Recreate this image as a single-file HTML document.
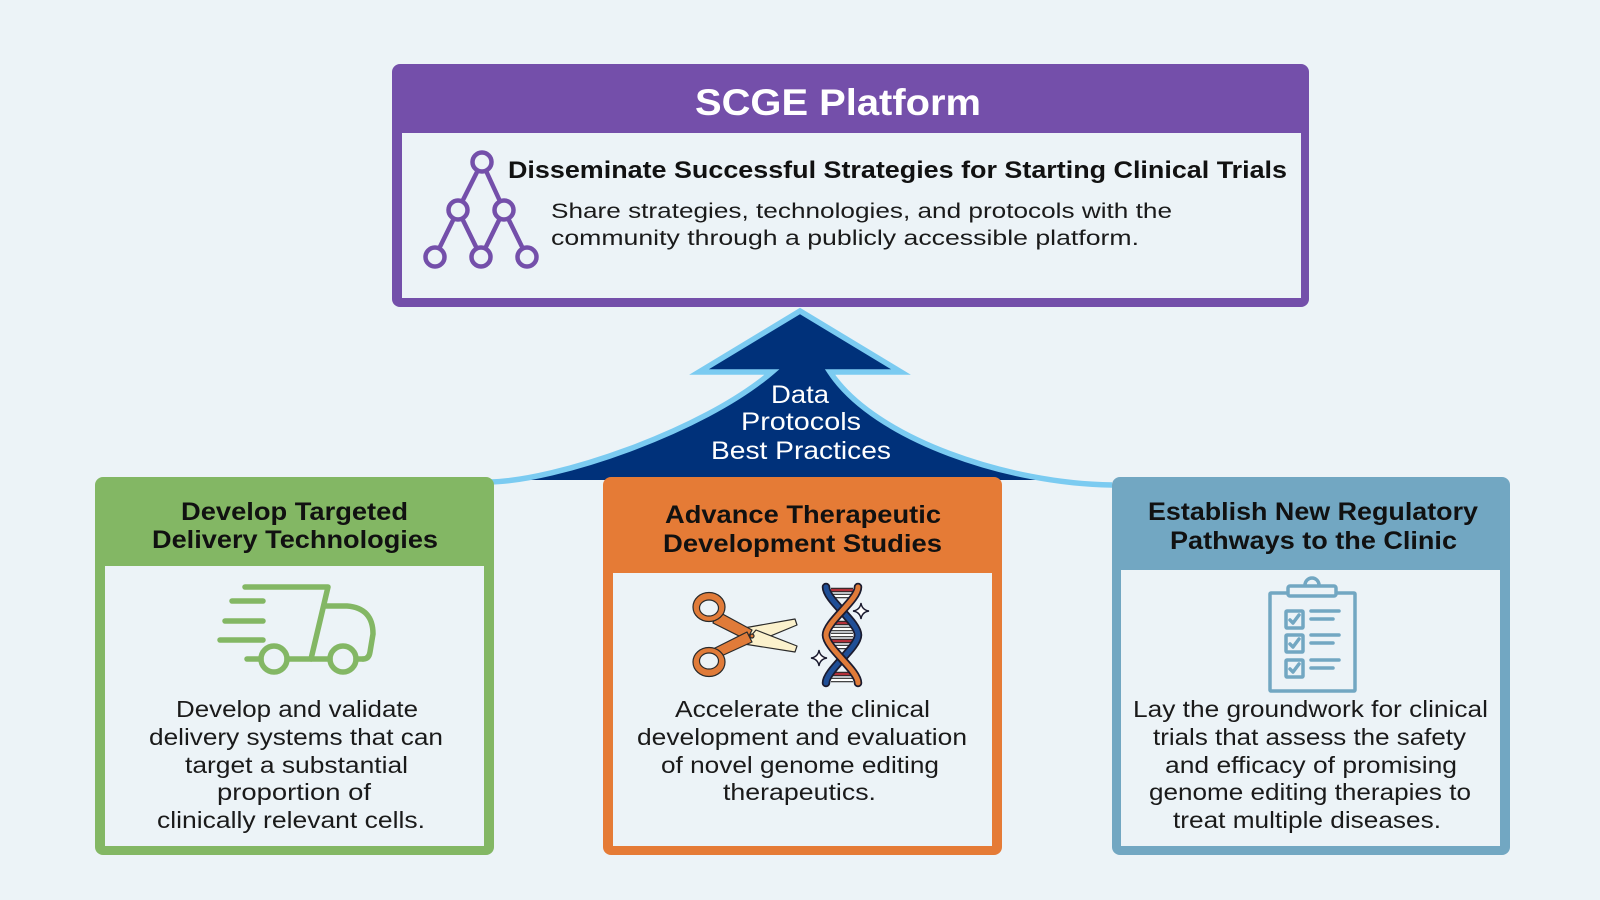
<!DOCTYPE html>
<html>
<head>
<meta charset="utf-8">
<style>
  html,body{margin:0;padding:0;background:#ECF3F7;}
  svg{display:block;}
  text{font-family:"Liberation Sans", Arial, sans-serif;}
</style>
</head>
<body>
<svg width="1600" height="900" viewBox="0 0 1600 900" xmlns="http://www.w3.org/2000/svg">
  <rect x="0" y="0" width="1600" height="900" fill="#ECF3F7"/>

  <!-- ===== Arrow ===== -->
  <path d="M800 311 L901 372 L830 372 C875 440, 1010 484, 1112 485 L1112 480 L490 480 L490 482 C555 481, 702 432, 772 372 L699 372 Z" fill="#00317A"/>
  <rect x="494" y="480" width="618" height="16" fill="#ECF3F7"/>
  <path d="M490 482 C555 481, 702 432, 772 372 L699 372 L800 311 L901 372 L830 372 C875 440, 1010 484, 1112 485" fill="none" stroke="#7BCBF1" stroke-width="5.5" stroke-linejoin="miter"/>
  <text x="771" y="403" font-size="25" fill="#FFFFFF" textLength="58" lengthAdjust="spacingAndGlyphs">Data</text>
  <text x="741" y="430" font-size="25" fill="#FFFFFF" textLength="120" lengthAdjust="spacingAndGlyphs">Protocols</text>
  <text x="711" y="459" font-size="25" fill="#FFFFFF" textLength="180" lengthAdjust="spacingAndGlyphs">Best Practices</text>

  <!-- ===== Top box ===== -->
  <rect x="392" y="64" width="917" height="243" rx="8" ry="8" fill="#744FAA"/>
  <rect x="402" y="133" width="899" height="165" fill="#ECF3F7"/>
  <text x="695" y="115" font-size="37" font-weight="bold" fill="#FFFFFF" textLength="286" lengthAdjust="spacingAndGlyphs">SCGE Platform</text>
  <text x="508" y="178" font-size="24" font-weight="bold" fill="#111111" textLength="779" lengthAdjust="spacingAndGlyphs">Disseminate Successful Strategies for Starting Clinical Trials</text>
  <text x="551" y="218" font-size="21" fill="#1a1a1a" textLength="621" lengthAdjust="spacingAndGlyphs">Share strategies, technologies, and protocols with the</text>
  <text x="551" y="245" font-size="21" fill="#1a1a1a" textLength="588" lengthAdjust="spacingAndGlyphs">community through a publicly accessible platform.</text>

  <!-- network icon -->
  <g stroke="#744FAA" stroke-width="4.5" fill="none" stroke-linecap="round">
    <line x1="482" y1="162" x2="458" y2="210"/>
    <line x1="482" y1="162" x2="504" y2="210"/>
    <line x1="458" y1="210" x2="435" y2="257"/>
    <line x1="458" y1="210" x2="481" y2="257"/>
    <line x1="504" y1="210" x2="481" y2="257"/>
    <line x1="504" y1="210" x2="527" y2="257"/>
  </g>
  <g stroke="#744FAA" stroke-width="4.5" fill="#ECF3F7">
    <circle cx="482" cy="162" r="9.5"/>
    <circle cx="458" cy="210" r="9.5"/>
    <circle cx="504" cy="210" r="9.5"/>
    <circle cx="435" cy="257" r="9.5"/>
    <circle cx="481" cy="257" r="9.5"/>
    <circle cx="527" cy="257" r="9.5"/>
  </g>

  <!-- ===== Green box ===== -->
  <rect x="95" y="477" width="399" height="378" rx="8" ry="8" fill="#83B764"/>
  <rect x="105" y="566" width="379" height="280" fill="#ECF3F7"/>
  <text x="181" y="520" font-size="25" font-weight="bold" fill="#111111" textLength="227" lengthAdjust="spacingAndGlyphs">Develop Targeted</text>
  <text x="152" y="548" font-size="25" font-weight="bold" fill="#111111" textLength="286" lengthAdjust="spacingAndGlyphs">Delivery Technologies</text>
  <g fill="#1a1a1a" font-size="23">
    <text x="176" y="717" textLength="242" lengthAdjust="spacingAndGlyphs">Develop and validate</text>
    <text x="149" y="745" textLength="294" lengthAdjust="spacingAndGlyphs">delivery systems that can</text>
    <text x="185" y="773" textLength="223" lengthAdjust="spacingAndGlyphs">target a substantial</text>
    <text x="217" y="800" textLength="154" lengthAdjust="spacingAndGlyphs">proportion of</text>
    <text x="157" y="828" textLength="268" lengthAdjust="spacingAndGlyphs">clinically relevant cells.</text>
  </g>
  <!-- truck -->
  <g stroke="#83B764" stroke-width="5.5" fill="none" stroke-linecap="round" stroke-linejoin="round">
    <path d="M245 587 L328 587 L311 659"/>
    <path d="M232 601 L263 601"/>
    <path d="M225 621 L263 621"/>
    <path d="M220 640 L263 640"/>
    <path d="M247 659 L261 659"/>
    <path d="M287 659 L330 659"/>
    <path d="M356 659 L363 659"/>
    <path d="M325 606 L347 606 Q373 608 373 634 L370 652 Q369 659 363 659"/>
    <circle cx="274" cy="659" r="13"/>
    <circle cx="343" cy="659" r="13"/>
  </g>

  <!-- ===== Orange box ===== -->
  <rect x="603" y="477" width="399" height="378" rx="8" ry="8" fill="#E57B36"/>
  <rect x="613" y="573" width="379" height="273" fill="#ECF3F7"/>
  <text x="665" y="523" font-size="25" font-weight="bold" fill="#111111" textLength="276" lengthAdjust="spacingAndGlyphs">Advance Therapeutic</text>
  <text x="663" y="552" font-size="25" font-weight="bold" fill="#111111" textLength="279" lengthAdjust="spacingAndGlyphs">Development Studies</text>
  <g fill="#1a1a1a" font-size="23">
    <text x="675" y="717" textLength="255" lengthAdjust="spacingAndGlyphs">Accelerate the clinical</text>
    <text x="637" y="745" textLength="330" lengthAdjust="spacingAndGlyphs">development and evaluation</text>
    <text x="661" y="773" textLength="278" lengthAdjust="spacingAndGlyphs">of novel genome editing</text>
    <text x="723" y="800" textLength="153" lengthAdjust="spacingAndGlyphs">therapeutics.</text>
  </g>
  <!-- scissors -->
  <g stroke="#2a2a2a" stroke-width="1.2" stroke-linejoin="round">
    <path d="M744 628 L795 619 L797 625 L756 642 Z" fill="#FBF1CC"/>
    <path d="M744 644 L795 652 L797 646 L756 630 Z" fill="#FBF1CC"/>
    <path d="M717 611 L752 630 L747 640 L713 623 Z" fill="#E07B39"/>
    <path d="M717 658 L752 642 L747 632 L713 649 Z" fill="#E07B39"/>
    <ellipse cx="709" cy="607" rx="16" ry="14.5" fill="#E07B39"/>
    <ellipse cx="709" cy="608" rx="9.5" ry="8" fill="#ECF3F7"/>
    <ellipse cx="709" cy="662" rx="16" ry="14.5" fill="#E07B39"/>
    <ellipse cx="709" cy="661" rx="9.5" ry="8" fill="#ECF3F7"/>
    <circle cx="752" cy="636" r="2" fill="#E07B39"/>
  </g>
  <!-- DNA -->
  <g stroke-linecap="butt">
    <g stroke="#2a2a2a" stroke-width="4.5">
      <line x1="831" y1="590" x2="853" y2="590"/>
      <line x1="831" y1="596" x2="853" y2="596"/>
      <line x1="834" y1="623" x2="850" y2="623"/>
      <line x1="831" y1="629" x2="853" y2="629"/>
      <line x1="831" y1="635" x2="853" y2="635"/>
      <line x1="831" y1="641" x2="853" y2="641"/>
      <line x1="834" y1="647" x2="850" y2="647"/>
      <line x1="831" y1="674" x2="853" y2="674"/>
      <line x1="831" y1="680" x2="853" y2="680"/>
    </g>
    <g stroke="#FFFFFF" stroke-width="2.2">
      <line x1="831" y1="596" x2="853" y2="596"/>
      <line x1="831" y1="635" x2="853" y2="635"/>
      <line x1="834" y1="647" x2="850" y2="647"/>
      <line x1="831" y1="680" x2="853" y2="680"/>
      <line x1="831" y1="629" x2="853" y2="629"/>
    </g>
    <g stroke="#B3313A" stroke-width="2.2">
      <line x1="831" y1="590" x2="853" y2="590"/>
      <line x1="834" y1="623" x2="850" y2="623"/>
      <line x1="831" y1="641" x2="853" y2="641"/>
      <line x1="831" y1="674" x2="853" y2="674"/>
    </g>
  </g>
  <g fill="none" stroke-linecap="round">
    <path d="M826 587 C826 600, 858 622, 858 635 C858 648, 826 670, 826 683" stroke="#1b1b2f" stroke-width="8.5"/>
    <path d="M826 587 C826 600, 858 622, 858 635 C858 648, 826 670, 826 683" stroke="#1F4E96" stroke-width="5"/>
    <path d="M858 587 C858 600, 826 622, 826 635 C826 648, 858 670, 858 683" stroke="#1b1b2f" stroke-width="8.5"/>
    <path d="M858 587 C858 600, 826 622, 826 635 C826 648, 858 670, 858 683" stroke="#E07B39" stroke-width="5"/>
  </g>
  <g fill="#FFFFFF" stroke="#1b1b2f" stroke-width="1.4">
    <path transform="translate(861 611)" d="M0 -8 Q1 -1 8 0 Q1 1 0 8 Q-1 1 -8 0 Q-1 -1 0 -8 Z"/>
    <path transform="translate(819 658)" d="M0 -8 Q1 -1 8 0 Q1 1 0 8 Q-1 1 -8 0 Q-1 -1 0 -8 Z"/>
  </g>

  <!-- ===== Blue box ===== -->
  <rect x="1112" y="477" width="398" height="378" rx="8" ry="8" fill="#72A7C2"/>
  <rect x="1121" y="570" width="379" height="276" fill="#ECF3F7"/>
  <text x="1148" y="520" font-size="25" font-weight="bold" fill="#111111" textLength="330" lengthAdjust="spacingAndGlyphs">Establish New Regulatory</text>
  <text x="1170" y="549" font-size="25" font-weight="bold" fill="#111111" textLength="287" lengthAdjust="spacingAndGlyphs">Pathways to the Clinic</text>
  <g fill="#1a1a1a" font-size="23">
    <text x="1133" y="717" textLength="355" lengthAdjust="spacingAndGlyphs">Lay the groundwork for clinical</text>
    <text x="1153" y="745" textLength="313" lengthAdjust="spacingAndGlyphs">trials that assess the safety</text>
    <text x="1165" y="773" textLength="292" lengthAdjust="spacingAndGlyphs">and efficacy of promising</text>
    <text x="1149" y="800" textLength="322" lengthAdjust="spacingAndGlyphs">genome editing therapies to</text>
    <text x="1173" y="828" textLength="268" lengthAdjust="spacingAndGlyphs">treat multiple diseases.</text>
  </g>
  <!-- clipboard -->
  <g stroke="#72A7C2" stroke-width="3.5" fill="none" stroke-linecap="round" stroke-linejoin="round">
    <rect x="1270" y="593" width="85" height="98" rx="1"/>
    <path d="M1305 585 A7 7 0 0 1 1319 585"/>
    <rect x="1288" y="586" width="48" height="10" rx="2" fill="#ECF3F7"/>
    <rect x="1286" y="611" width="17" height="17" rx="1"/>
    <rect x="1286" y="635" width="17" height="17" rx="1"/>
    <rect x="1286" y="660" width="17" height="17" rx="1"/>
    <path d="M1290 620 L1293 623 L1299 615"/>
    <path d="M1290 644 L1293 647 L1299 639"/>
    <path d="M1290 669 L1293 672 L1299 664"/>
    <line x1="1311" y1="611" x2="1339" y2="611"/>
    <line x1="1311" y1="619" x2="1333" y2="619"/>
    <line x1="1311" y1="635" x2="1339" y2="635"/>
    <line x1="1311" y1="643" x2="1333" y2="643"/>
    <line x1="1311" y1="660" x2="1339" y2="660"/>
    <line x1="1311" y1="668" x2="1333" y2="668"/>
  </g>
</svg>
</body>
</html>
